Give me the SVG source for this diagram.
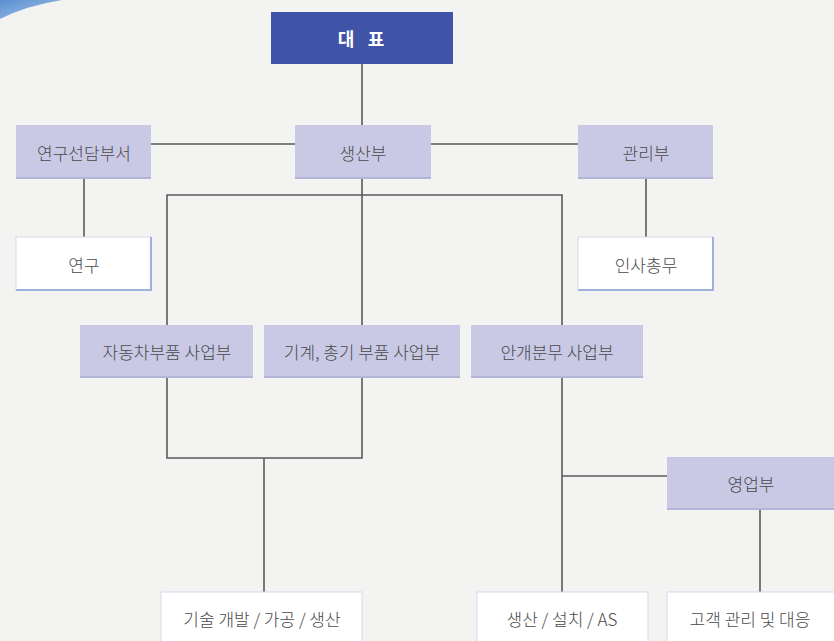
<svg xmlns="http://www.w3.org/2000/svg" width="834" height="641" viewBox="0 0 834 641">
<defs>
<linearGradient id="arc" x1="0" y1="0" x2="1" y2="1">
<stop offset="0" stop-color="#5a8fd0"/>
<stop offset="1" stop-color="#a9c6ea"/>
</linearGradient>
</defs>
<style>
.bg{fill:#f3f3f1}
.p{fill:#c9c9e5}
.ps{fill:#b3b5d8}
.w{fill:#ffffff;stroke:#d5daee;stroke-width:1}
.ws{fill:none;stroke:#9fb0dc;stroke-width:2}
.t{font-family:"Noto Sans CJK KR","Noto Sans",sans-serif;font-size:17px;font-weight:300;fill:#4a4a4a;text-anchor:middle;dominant-baseline:central}
.h{font-family:"Noto Sans CJK KR","Noto Sans",sans-serif;font-size:18px;font-weight:bold;fill:#ffffff;text-anchor:middle;dominant-baseline:central}
.c{fill:none;stroke:#5a5a5a;stroke-width:1.6}
</style>
<rect class="bg" x="0" y="0" width="834" height="641"/>
<path d="M0,0 L62,0 Q25,6 0,19 Z" fill="url(#arc)"/>
<g id="connectors">
<path class="c" d="M362,64 V125"/>
<path class="c" d="M151,144 H295 M431,144 H578"/>
<path class="c" d="M84,178 V237"/>
<path class="c" d="M646,178 V237"/>
<path class="c" d="M362,178 V325"/>
<path class="c" d="M167,325 V195 H562 V325"/>
<path class="c" d="M167,377 V458 H362 V377"/>
<path class="c" d="M264,458 V592"/>
<path class="c" d="M562,377 V592"/>
<path class="c" d="M562,476 H667"/>
<path class="c" d="M760,509 V592"/>
</g>
<g id="ceo">
<rect x="271" y="12" width="182" height="52" fill="#3f54a6"/>
<text class="h" x="346" y="38">대</text>
<text class="h" x="376" y="38">표</text>
</g>
<g id="research-dept">
<rect class="ps" x="16" y="126" width="135" height="53"/>
<rect class="p" x="16" y="125" width="135" height="52"/>
<text class="t" x="84" y="152">연구선담부서</text>
</g>
<g id="production-dept">
<rect class="ps" x="295" y="126" width="136" height="53"/>
<rect class="p" x="295" y="125" width="136" height="52"/>
<text class="t" x="363" y="152">생산부</text>
</g>
<g id="admin-dept">
<rect class="ps" x="578" y="126" width="135" height="53"/>
<rect class="p" x="578" y="125" width="135" height="52"/>
<text class="t" x="646" y="152">관리부</text>
</g>
<g id="research">
<rect class="w" x="16" y="237" width="135" height="53"/>
<path class="ws" d="M16,290 H151 V237"/>
<text class="t" x="84" y="264">연구</text>
</g>
<g id="hr">
<rect class="w" x="578" y="237" width="135" height="53"/>
<path class="ws" d="M578,290 H713 V237"/>
<text class="t" x="646" y="264">인사총무</text>
</g>
<g id="auto-parts">
<rect class="ps" x="80" y="326" width="173" height="52"/>
<rect class="p" x="80" y="325" width="173" height="51"/>
<text class="t" x="167" y="351">자동차부품 사업부</text>
</g>
<g id="machine-parts">
<rect class="ps" x="264" y="326" width="196" height="52"/>
<rect class="p" x="264" y="325" width="196" height="51"/>
<text class="t" x="362" y="351">기계, 총기 부품 사업부</text>
</g>
<g id="mist">
<rect class="ps" x="471" y="326" width="172" height="52"/>
<rect class="p" x="471" y="325" width="172" height="51"/>
<text class="t" x="557" y="351">안개분무 사업부</text>
</g>
<g id="sales">
<rect class="ps" x="667" y="458" width="167" height="52"/>
<rect class="p" x="667" y="457" width="167" height="51"/>
<text class="t" x="751" y="483">영업부</text>
</g>
<g id="tech-dev">
<rect class="w" x="161" y="592" width="201" height="60"/>
<text class="t" x="262" y="618">기술 개발 / 가공 / 생산</text>
</g>
<g id="install">
<rect class="w" x="477" y="592" width="171" height="60"/>
<text class="t" x="562" y="618">생산 / 설치 / AS</text>
</g>
<g id="customer">
<rect class="w" x="667" y="592" width="170" height="60"/>
<text class="t" x="750" y="618">고객 관리 및 대응</text>
</g>
</svg>
